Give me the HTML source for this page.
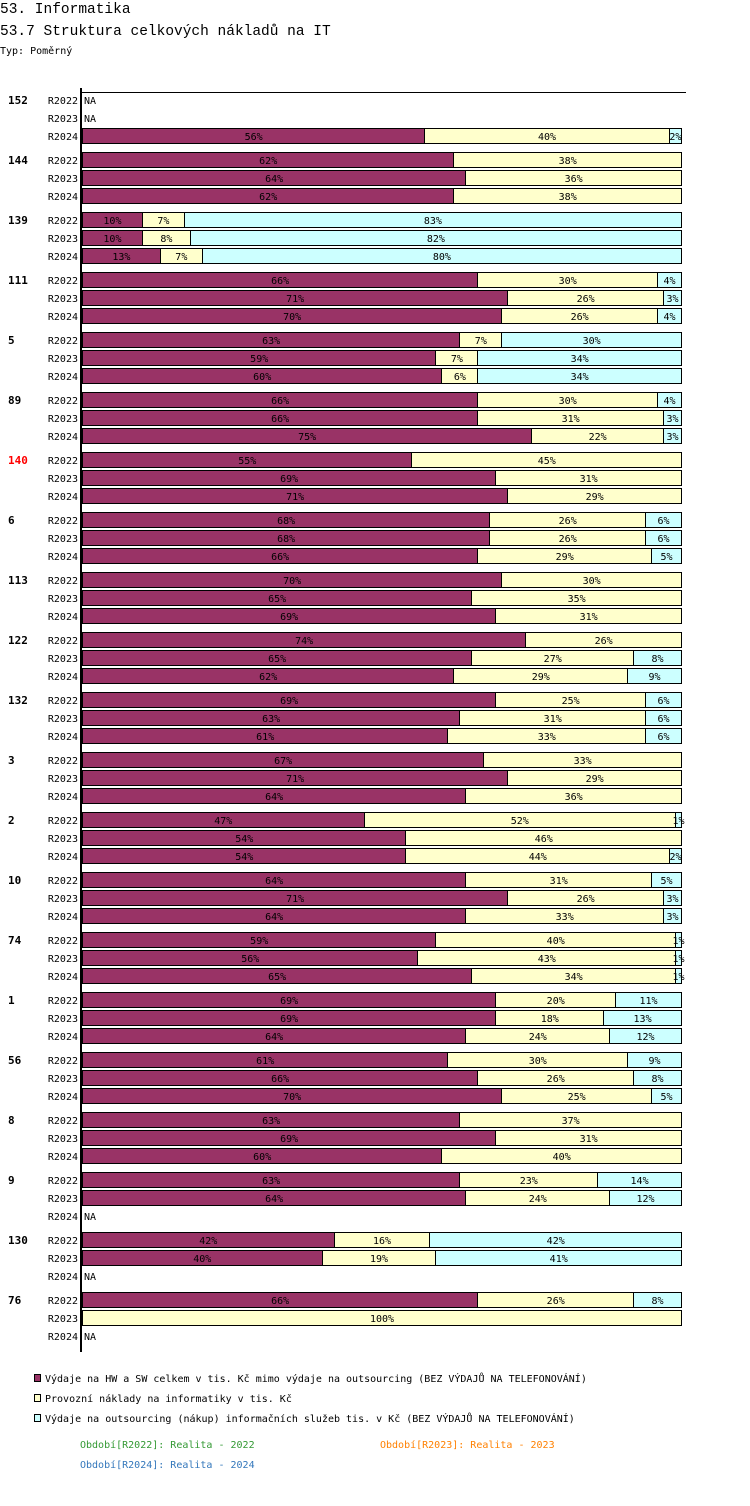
<!DOCTYPE html>
<html><head><meta charset="utf-8"><style>
body{margin:0;background:#fff;width:750px;height:1502px;overflow:hidden;font-family:"DejaVu Sans Mono","Liberation Mono",monospace;}
svg text{font-family:"DejaVu Sans Mono","Liberation Mono",monospace;}
</style></head><body>
<svg id="c" width="750" height="1502" xmlns="http://www.w3.org/2000/svg">
<text x="0" y="13" font-size="14.5" style="font-family:'Liberation Mono',monospace">53. Informatika</text>
<text x="0" y="35" font-size="14.5" style="font-family:'Liberation Mono',monospace">53.7 Struktura celkových nákladů na IT</text>
<text x="0" y="54" font-size="10">Typ: Poměrný</text>
<g id="bars"></g>
<line x1="81" y1="88" x2="81" y2="1352" stroke="#000" stroke-width="2"/>
<line x1="81" y1="92.5" x2="686" y2="92.5" stroke="#000" stroke-width="1"/>
<rect x="34.5" y="1374.5" width="6" height="7" fill="#993366" stroke="#000"/>
<text x="45" y="1382" font-size="10">Výdaje na HW a SW celkem v tis. Kč mimo výdaje na outsourcing (BEZ VÝDAJŮ NA TELEFONOVÁNÍ)</text>
<rect x="34.5" y="1394.5" width="6" height="7" fill="#ffffcc" stroke="#000"/>
<text x="45" y="1402" font-size="10">Provozní náklady na informatiky v tis. Kč</text>
<rect x="34.5" y="1414.5" width="6" height="7" fill="#ccffff" stroke="#000"/>
<text x="45" y="1422" font-size="10">Výdaje na outsourcing (nákup) informačních služeb tis. v Kč (BEZ VÝDAJŮ NA TELEFONOVÁNÍ)</text>
<text x="80" y="1448" font-size="10" fill="#339933">Období[R2022]: Realita - 2022</text>
<text x="380" y="1448" font-size="10" fill="#ff8000">Období[R2023]: Realita - 2023</text>
<text x="80" y="1468" font-size="10" fill="#3377bb">Období[R2024]: Realita - 2024</text>
</svg>
<script>
const groups = ["152","144","139","111","5","89","140","6","113","122","132","3","2","10","74","1","56","8","9","130","76"];
const years = ["R2022","R2023","R2024"];
const hw = [[null,null,56],[62,64,62],[10,10,13],[66,71,70],[63,59,60],[66,66,75],[55,69,71],[68,68,66],[70,65,69],[74,65,62],[69,63,61],[67,71,64],[47,54,54],[64,71,64],[59,56,65],[69,69,64],[61,66,70],[63,69,60],[63,64,null],[42,40,null],[66,0,null]];
const prov = [[null,null,40],[38,36,38],[7,8,7],[30,26,26],[7,7,6],[30,31,22],[45,31,29],[26,26,29],[30,35,31],[26,27,29],[25,31,33],[33,29,36],[52,46,44],[31,26,33],[40,43,34],[20,18,24],[30,26,25],[37,31,40],[23,24,null],[16,19,null],[26,100,null]];
const outs = [[null,null,2],[0,0,0],[83,82,80],[4,3,4],[30,34,34],[4,3,3],[0,0,0],[6,6,5],[0,0,0],[0,8,9],[6,6,6],[0,0,0],[1,0,2],[5,3,3],[1,1,1],[11,13,12],[9,8,5],[0,0,0],[14,12,null],[42,41,null],[8,0,null]];
const highlighted = ["140"];
const colors = ["#993366","#ffffcc","#ccffff"];
const NS = "http://www.w3.org/2000/svg";
const g = document.getElementById("bars");
const X0 = 82, XW = 599;
const xs = f => X0 + f * XW;
const rowY = (gi, yi) => 92 + gi * 60 + yi * 18;
function mk(tag, attrs) { const e = document.createElementNS(NS, tag); for (const k in attrs) e.setAttribute(k, attrs[k]); return e; }
groups.forEach((name, gi) => {
  const gl = mk("text", {x: 8, y: rowY(gi, 0) + 12, "font-size": 11, "font-weight": "bold", fill: highlighted.includes(name) ? "#ff0000" : "#000"});
  gl.textContent = name;
  
  
  g.appendChild(gl);
  years.forEach((yr, yi) => {
    const y = rowY(gi, yi);
    const yl = mk("text", {x: 78, y: y + 12, "font-size": 10, "text-anchor": "end"});
    yl.textContent = yr;
    
    
    g.appendChild(yl);
    const vals = [hw[gi][yi], prov[gi][yi], outs[gi][yi]];
    if (vals[0] === null) {
      const na = mk("text", {x: 84, y: y + 12, "font-size": 10});
      na.textContent = "NA";
      
      
      g.appendChild(na);
      return;
    }
    const tot = vals.reduce((a, b) => a + b, 0);
    let cum = 0;
    vals.forEach((v, si) => {
      if (!v) return;
      const x1 = xs(cum / tot), x2 = xs((cum + v) / tot);
      cum += v;
      const r = mk("rect", {x: Math.round(x1) + 0.5, y: y + 0.5, width: Math.max(1, Math.round(x2) - Math.round(x1)), height: 15, fill: colors[si], stroke: "#000"});
      
      
      g.appendChild(r);
      const t = mk("text", {x: (x1 + x2) / 2 + 0.5, y: y + 12, "font-size": 10, "text-anchor": "middle"});
      t.textContent = v + "%";
      
      
      g.appendChild(t);
    });
  });
});
</script>
</body></html>
